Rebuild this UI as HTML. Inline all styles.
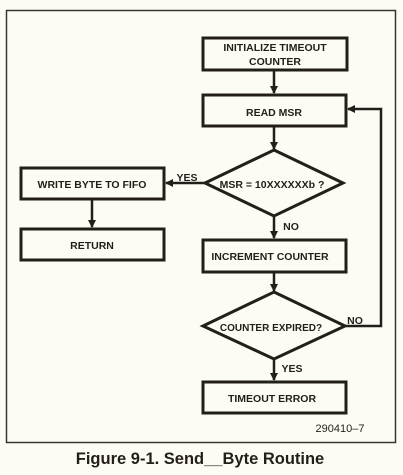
<!DOCTYPE html>
<html><head><style>
html,body{margin:0;padding:0;background:#fdfcf4;}
svg{display:block;}
text{font-family:"Liberation Sans",sans-serif;fill:#231e1a;}
</style></head><body>
<svg width="403" height="475" viewBox="0 0 403 475" xmlns="http://www.w3.org/2000/svg">
<rect x="0" y="0" width="403" height="475" fill="#fdfcf4"/>
<rect x="6.5" y="10.5" width="389" height="432" fill="none" stroke="#3a3430" stroke-width="1.5"/>
<defs><marker id="a" markerWidth="8" markerHeight="8" refX="7" refY="4" orient="auto" markerUnits="userSpaceOnUse"><path d="M0,0 L8,4 L0,8 Z" fill="#231e1a"/></marker></defs>
<g fill="none" stroke="#231e1a" stroke-width="3">
<rect x="203" y="38" width="144" height="32"/>
<rect x="203" y="95" width="143" height="31"/>
<rect x="21" y="168" width="143" height="31"/>
<rect x="21" y="229" width="143" height="31"/>
<rect x="203" y="240" width="143" height="32"/>
<rect x="203" y="382" width="143" height="31"/>
<path d="M274,150 L343,183 L274,216 L205,183 Z"/>
<path d="M274,292 L345,326 L274,359 L203,326 Z"/>
</g>
<g fill="none" stroke="#231e1a" stroke-width="2.5">
<line x1="274" y1="70" x2="274" y2="93" marker-end="url(#a)"/>
<line x1="274" y1="126" x2="274" y2="149" marker-end="url(#a)"/>
<line x1="205" y1="183" x2="166" y2="183" marker-end="url(#a)"/>
<line x1="92" y1="199" x2="92" y2="227" marker-end="url(#a)"/>
<line x1="274" y1="216" x2="274" y2="238" marker-end="url(#a)"/>
<line x1="274" y1="272" x2="274" y2="291" marker-end="url(#a)"/>
<line x1="274" y1="359" x2="274" y2="380" marker-end="url(#a)"/>
<polyline points="345,326 381,326 381,109 348,109" marker-end="url(#a)"/>
</g>
<g font-size="10.5" font-weight="bold" text-anchor="middle">
<text x="275" y="51">INITIALIZE TIMEOUT</text>
<text x="275" y="65">COUNTER</text>
<text x="274" y="116">READ MSR</text>
<text x="92" y="188">WRITE BYTE TO FIFO</text>
<text x="92" y="249">RETURN</text>
<text x="270" y="260">INCREMENT COUNTER</text>
<text x="272" y="188" font-size="10.5">MSR = 10XXXXXXb ?</text>
<text x="271" y="331" font-size="10">COUNTER EXPIRED?</text>
<text x="272" y="402">TIMEOUT ERROR</text>
<text x="187" y="181">YES</text>
<text x="291" y="230">NO</text>
<text x="355" y="324">NO</text>
<text x="292" y="372">YES</text>
<text x="340" y="432" font-weight="normal" font-size="11">290410–7</text>
</g>
<text x="200" y="464" font-size="16.5" font-weight="bold" text-anchor="middle">Figure 9-1. Send__Byte Routine</text>
</svg>
</body></html>
